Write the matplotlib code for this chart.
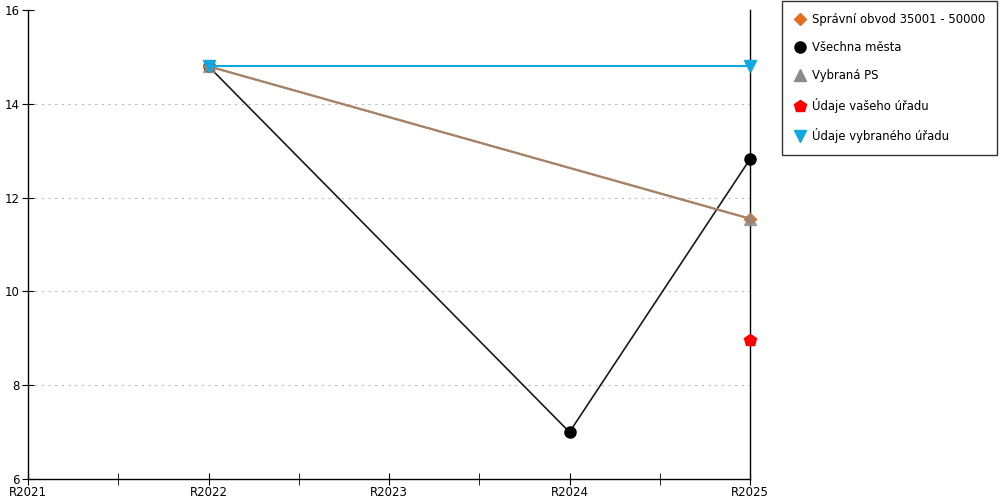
import matplotlib
matplotlib.use("Agg")
import matplotlib.pyplot as plt
import numpy as np

years = ["R2021", "R2022", "R2023", "R2024", "R2025"]

# series: x index -> value
obvod_x = [1, 4]
obvod_y = [14.8, 11.55]
mesta_x = [1, 3, 4]
mesta_y = [14.8, 7.0, 12.82]
ps_x = [1, 4]
ps_y = [14.8, 11.55]
vas_x = [4]
vas_y = [8.97]
vybrany_x = [1, 4]
vybrany_y = [14.8, 14.8]

plt.rcParams["font.family"] = ["DejaVu Sans"]

fig = plt.figure(figsize=(10, 5), dpi=100)
ax = fig.add_axes([0.028, 0.042, 0.722, 0.938])

ax.plot(mesta_x, mesta_y, color="#1a1a1a", lw=1.2, marker="o", ms=8,
        mfc="black", mec="black", label="Všechna města", zorder=3, clip_on=False)
ax.plot(obvod_x, obvod_y, color="#e07020", lw=1.5, marker="D", ms=6,
        label="Správní obvod 35001 - 50000", zorder=3, clip_on=False)
ax.plot(ps_x, ps_y, color="#8a8a8a", lw=1.5, marker="^", ms=8, alpha=0.75,
        label="Vybraná PS", zorder=4, clip_on=False)
ax.plot(vas_x, vas_y, color="red", lw=1.5, marker="p", ms=9,
        label="Údaje vašeho úřadu", zorder=4, clip_on=False)
ax.plot(vybrany_x, vybrany_y, color="#10a8e0", lw=1.5, marker="v", ms=8,
        label="Údaje vybraného úřadu", zorder=5, clip_on=False)

ax.set_xlim(0, 4)
ax.set_ylim(6, 16)
ax.set_xticks(range(len(years)))
ax.set_xticklabels(years, fontsize=8.5)
ax.set_xticks([0.5, 1.5, 2.5, 3.5], minor=True)
ax.set_yticks([6, 8, 10, 12, 14, 16])
ax.tick_params(axis="y", labelsize=8.5, direction="inout", length=8, pad=2)
ax.tick_params(axis="x", which="both", direction="inout", length=8, pad=1)
ax.grid(axis="y", linestyle=(0, (2, 4)), color="#bbbbbb", lw=0.8)
gl = ax.yaxis.get_gridlines()
gl[0].set_visible(False)
gl[-1].set_visible(False)
ax.spines["top"].set_visible(False)
for s in ["left", "bottom", "right"]:
    ax.spines[s].set_color("black")
    ax.spines[s].set_linewidth(1)

handles, labels = ax.get_legend_handles_labels()
order = [1, 0, 2, 3, 4]
leg = fig.legend([handles[i] for i in order], [labels[i] for i in order],
                 loc="upper left", bbox_to_anchor=(0.782, 0.997),
                 fontsize=8.4, frameon=True, fancybox=False, edgecolor="black",
                 handlelength=1.0, handletextpad=0.6, labelspacing=1.3,
                 borderpad=1.0, borderaxespad=0, markerscale=1.0)
for h in leg.legend_handles:
    h.set_linestyle("none")
    h.set_alpha(1)
leg.get_frame().set_linewidth(1)

fig.savefig("out.png", dpi=100)
